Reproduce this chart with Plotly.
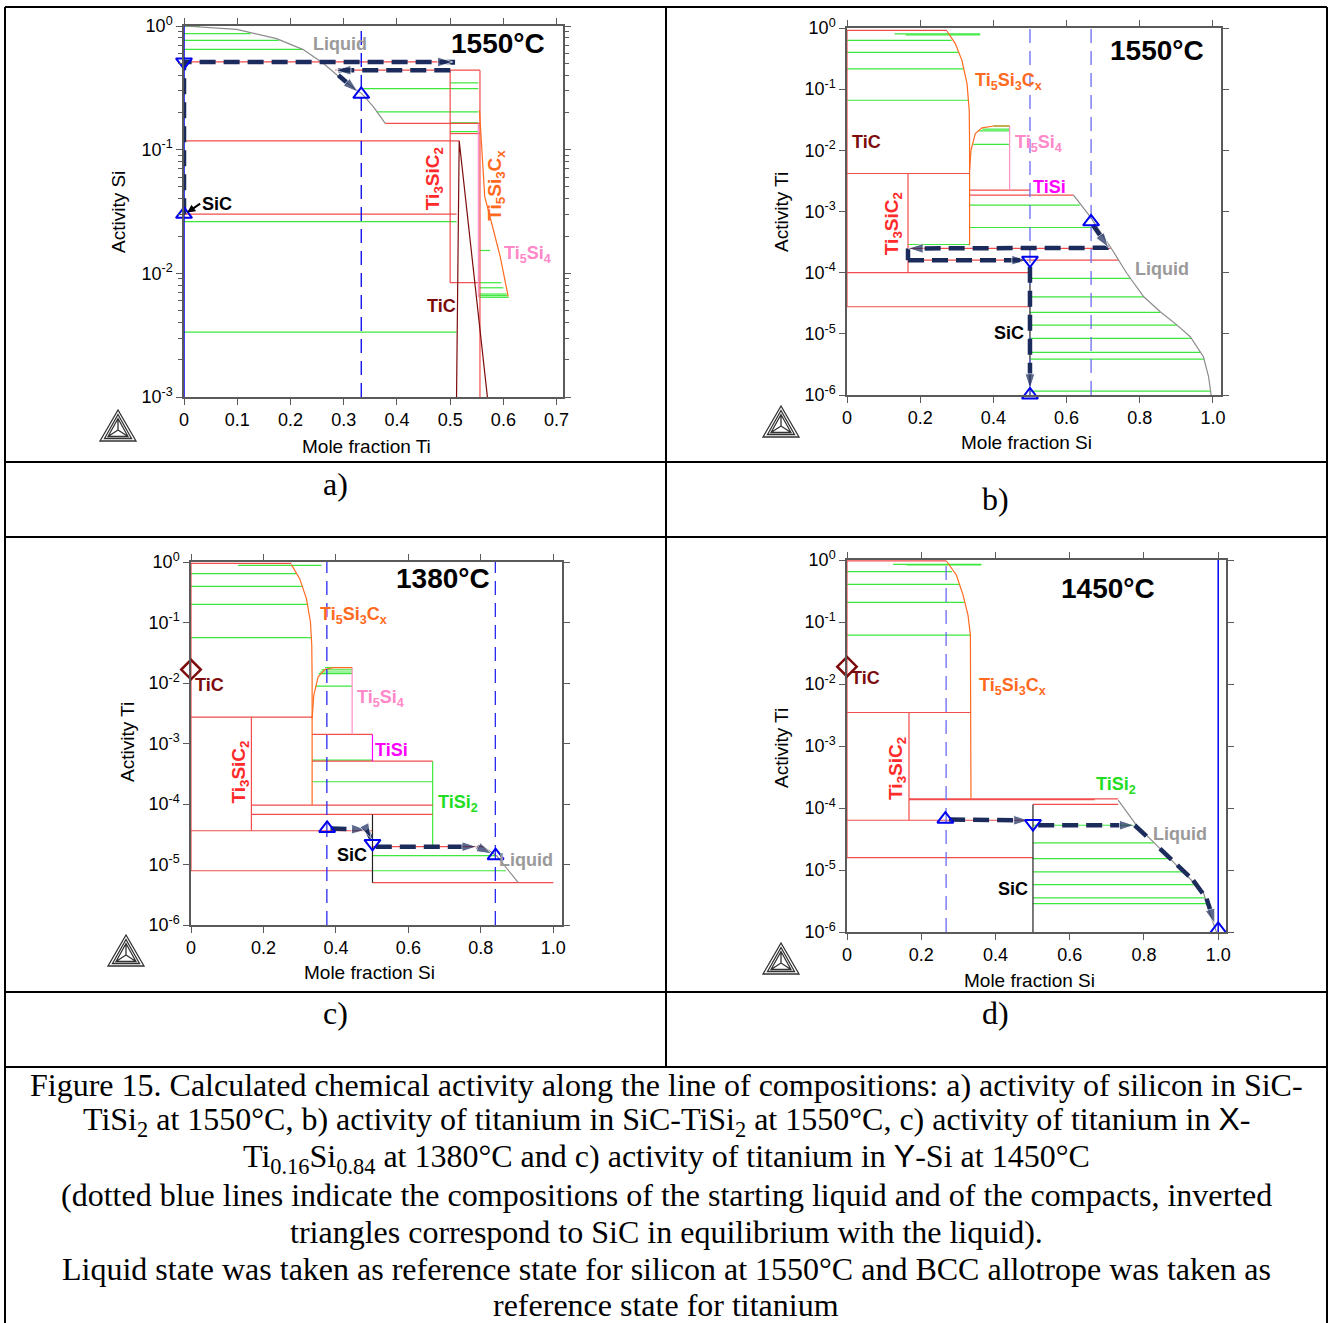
import numpy as np
import plotly.graph_objects as go

W, H = 1334, 1323

# ===================== DATA =====================
# ---------- panel a : activity of Si vs mole fraction Ti, 1550 C ----------
A_LIQUID_X = [0.0, 0.099, 0.174, 0.224, 0.262, 0.299, 0.334, 0.356, 0.378]
A_LIQUID_Y = [1.0, 0.94, 0.79, 0.644, 0.497, 0.364, 0.284, 0.222, 0.163]
A_TI5SI3CX_X = [0.555, 0.559, 0.565, 0.578, 0.594, 0.609]
A_TI5SI3CX_Y = [0.209, 0.0992, 0.0417, 0.0254, 0.01367, 0.0065]
A_TIC_X = [0.512, 0.517, 0.570]
A_TIC_Y = [0.001, 0.118, 0.001]
# tie lines (activity, x_from, x_to)
A_GREEN_H = [(0.994, 0.0, 0.03), (0.867, 0.0, 0.125), (0.766, 0.0, 0.178), (0.648, 0.0, 0.222),
             (0.347, 0.5, 0.553), (0.312, 0.337, 0.553), (0.202, 0.362, 0.553), (0.165, 0.5, 0.553),
             (0.140, 0.5, 0.553), (0.0262, 0.0, 0.512), (0.00335, 0.0, 0.512), (0.0153, 0.555, 0.575),
             (0.0084, 0.555, 0.596), (0.00764, 0.555, 0.600), (0.0068, 0.555, 0.606), (0.0066, 0.555, 0.608),
             (0.0064, 0.555, 0.610)]
A_RED_H = [(0.512, 0.0, 0.505), (0.439, 0.284, 0.556), (0.163, 0.378, 0.556), (0.135, 0.5, 0.556),
           (0.118, 0.0, 0.517), (0.0301, 0.0, 0.512), (0.00841, 0.5, 0.556)]
A_RED_V = [(0.5, 0.00841, 0.439), (0.556, 0.001, 0.439)]
A_PINK_V = [(0.553, 0.0064, 0.163)]
A_BLUE_SOLID = [0.0]
A_BLUE_DASHED = [0.333]
A_PATHS = [([0.0, 0.0, 0.505, 0.505, 0.285], [0.03, 0.512, 0.512, 0.439, 0.439], [2, 4]),
           ([0.29, 0.327], [0.40, 0.292], [1])]
A_TRI_UP = ([0.0, 0.333], [0.03, 0.28])
A_TRI_DOWN = ([0.0], [0.512])

# ---------- panel b : activity of Ti vs mole fraction Si, 1550 C ----------
B_LIQUID_X = [0.619, 0.665, 0.7195, 0.765, 0.811, 0.856, 0.902, 0.938, 0.974, 0.988, 0.995]
B_LIQUID_Y = [1.85e-3, 8.18e-4, 2.65e-4, 9.7e-5, 4.03e-5, 2.3e-5, 1.39e-5, 8.97e-6, 4.22e-6, 2.0e-6, 1.0e-6]
B_TI5SI3CX_X = [0.273, 0.296, 0.314, 0.328, 0.334, 0.335, 0.335]
B_TI5SI3CX_Y = [0.893, 0.555, 0.296, 0.123, 0.045, 0.0129, 2.82e-4]
B_TI5SI4_X = [0.335, 0.3388, 0.3506, 0.3689, 0.4007, 0.4444]
B_TI5SI4_Y = [0.00473, 0.0100, 0.01875, 0.0233, 0.025, 0.025]
B_GREEN_H = [(0.80, 0.13, 0.364), (0.77, 0.16, 0.364), (0.629, 0.0, 0.286), (0.40, 0.0, 0.305),
             (0.214, 0.0, 0.318), (0.0659, 0.0, 0.332), (0.025, 0.40, 0.444), (0.0222, 0.37, 0.444),
             (0.0208, 0.36, 0.444), (0.0125, 0.345, 0.444), (1.27e-3, 0.335, 0.636), (5.48e-4, 0.335, 0.684),
             (2.89e-4, 0.1667, 0.335), (8.05e-5, 0.5, 0.775), (4.03e-5, 0.5, 0.811), (2.24e-5, 0.5, 0.856),
             (1.39e-5, 0.5, 0.902), (8.43e-6, 0.5, 0.941), (4.98e-6, 0.5, 0.966), (3.87e-6, 0.5, 0.976),
             (1.16e-6, 0.5, 0.994)]
B_RED_H = [(0.916, 0.0, 0.273), (0.00418, 0.0, 0.335), (2.49e-4, 0.1667, 0.72), (1.6e-4, 0.1667, 0.742),
           (1.0e-4, 0.0, 0.5), (2.77e-5, 0.0, 0.5), (0.00223, 0.335, 0.5), (0.00185, 0.335, 0.619)]
B_RED_V = [(0.0, 2.77e-5, 0.916), (0.1667, 1.0e-4, 0.00418)]
B_PINK_V = [(0.4444, 0.00223, 0.025)]
B_BLACK_V = [(0.5, 1.0e-6, 1.0e-4)]
B_BLUE_DASHED = [0.5, 0.667]
B_PATHS = [([0.672, 0.715, 0.1667, 0.1667, 0.492], [6.0e-4, 2.55e-4, 2.49e-4, 1.6e-4, 1.6e-4], [1, 2, 4]),
           ([0.5, 0.5], [1.25e-4, 1.25e-6], [1])]
B_TRI_UP = ([0.667, 0.5], [6.78e-4, 1.0e-6])
B_TRI_DOWN = ([0.5], [1.6e-4])

# ---------- panel c : activity of Ti vs mole fraction Si, 1380 C ----------
C_LIQUID_X = [0.8066, 0.8435, 0.9033]
C_LIQUID_Y = [1.97e-5, 1.4e-5, 5.0e-6]
C_TI5SI3CX_X = [0.277, 0.300, 0.3186, 0.3297, 0.3333, 0.3343, 0.3343]
C_TI5SI3CX_Y = [0.904, 0.531, 0.248, 0.102, 0.042, 0.01184, 9.6e-5]
C_TI5SI4_X = [0.3343, 0.3389, 0.3508, 0.3692, 0.3923, 0.4448]
C_TI5SI4_Y = [0.00259, 0.00628, 0.0126, 0.0167, 0.018, 0.018]
C_GREEN_H = [(0.88, 0.13, 0.36), (0.642, 0.0, 0.29), (0.396, 0.0, 0.309), (0.20, 0.0, 0.321),
             (0.0563, 0.0, 0.331), (0.018, 0.37, 0.4448), (0.0165, 0.36, 0.4448), (0.0152, 0.355, 0.4448),
             (0.0143, 0.352, 0.4448), (0.00885, 0.345, 0.4448), (5.3e-4, 0.3343, 0.5), (2.33e-4, 0.3343, 0.667),
             (1.4e-5, 0.5009, 0.8435), (7.89e-6, 0.5009, 0.869)]
C_RED_H = [(0.95, 0.0, 0.277), (0.00272, 0.0, 0.3343), (9.6e-5, 0.1667, 0.667), (6.73e-5, 0.1667, 0.667),
           (3.61e-5, 0.0, 0.5009), (7.89e-6, 0.0, 0.5009), (0.00141, 0.3343, 0.5009), (5.1e-4, 0.3343, 0.667),
           (1.97e-5, 0.5009, 0.8066), (5.0e-6, 0.5009, 1.0)]
C_RED_V = [(0.0, 7.89e-6, 0.95), (0.1667, 3.61e-5, 0.00272)]
C_PINK_V = [(0.4448, 0.00141, 0.018)]
C_MAGENTA_V = [(0.5009, 5.1e-4, 0.00141)]
C_GREEN_V = [(0.667, 1.97e-5, 5.1e-4)]
C_BLACK_V = [(0.5009, 5.0e-6, 6.73e-5)]
C_BLUE_DASHED = [0.375, 0.84]
C_PATHS = [([0.385, 0.485, 0.497], [3.95e-5, 3.75e-5, 2.7e-5], [1, 2]),
           ([0.51, 0.79, 0.83], [1.97e-5, 1.97e-5, 1.5e-5], [1, 2])]
C_TRI_UP = ([0.3757, 0.8407], [3.95e-5, 1.4e-5])
C_TRI_DOWN = ([0.5009], [2.23e-5])
C_TIC = ([0.0], [0.0167])

# ---------- panel d : activity of Ti vs mole fraction Si, 1450 C ----------
D_LIQUID_X = [0.7305, 0.780, 0.825, 0.8787, 0.9326, 0.9596, 0.982, 0.9955]
D_LIQUID_Y = [1.335e-4, 5.27e-5, 2.84e-5, 1.35e-5, 6.41e-6, 4.42e-6, 1.64e-6, 1.0e-6]
D_TI5SI3CX_X = [0.2677, 0.2947, 0.3127, 0.326, 0.3324, 0.334, 0.334]
D_TI5SI3CX_Y = [0.963, 0.573, 0.272, 0.1294, 0.0615, 0.00356, 1.42e-4]
D_GREEN_H = [(0.85, 0.124, 0.362), (0.83, 0.16, 0.362), (0.648, 0.0, 0.283), (0.405, 0.0, 0.302),
             (0.207, 0.0, 0.316), (0.0615, 0.0, 0.332), (5.27e-5, 0.501, 0.78), (2.73e-5, 0.501, 0.826),
             (1.53e-5, 0.501, 0.866), (9.3e-6, 0.501, 0.902), (5.8e-6, 0.501, 0.934), (3.54e-6, 0.501, 0.966),
             (2.86e-6, 0.501, 0.972)]
D_RED_H = [(0.97, 0.0, 0.2677), (0.00347, 0.0, 0.334), (1.4e-4, 0.167, 0.7305), (1.36e-4, 0.167, 0.667),
           (1.14e-4, 0.501, 0.7305), (6.35e-5, 0.0, 0.501), (1.58e-5, 0.0, 0.501)]
D_RED_V = [(0.0, 1.58e-5, 0.97), (0.167, 6.35e-5, 0.00347)]
D_BLACK_V = [(0.501, 1.0e-6, 1.14e-4)]
D_BLUE_SOLID = [1.0]
D_BLUE_DASHED = [0.267]
D_PATHS = [([0.275, 0.49], [6.5e-5, 6.3e-5], [1]),
           ([0.515, 0.775, 0.843, 0.9326, 0.9686, 0.991], [5.27e-5, 5.27e-5, 2.21e-5, 6.82e-6, 3.45e-6, 1.35e-6], [1, 5])]
D_TRI_UP = ([0.265, 1.0], [6.6e-5, 1.1e-6])
D_TRI_DOWN = ([0.501], [5.6e-5])
D_TIC = ([0.0], [0.019])

# tick labels
A_XTICKS = [0, 0.1, 0.2, 0.3, 0.4, 0.5, 0.6, 0.7]
A_XTICKTEXT = ["0", "0.1", "0.2", "0.3", "0.4", "0.5", "0.6", "0.7"]
SI_XTICKS = [0, 0.2, 0.4, 0.6, 0.8, 1.0]
SI_XTICKTEXT = ["0", "0.2", "0.4", "0.6", "0.8", "1.0"]

CAPTION_LINES = [
    "Figure 15. Calculated chemical activity along the line of compositions: a) activity of silicon in SiC-",
    "TiSi<sub>2</sub> at 1550°C, b) activity of titanium in SiC-TiSi<sub>2</sub> at 1550°C, c) activity of titanium in "
    "<span style='font-family:Liberation Sans'>X</span>-",
    "Ti<sub>0.16</sub>Si<sub>0.84</sub> at 1380°C and c) activity of titanium in "
    "<span style='font-family:Liberation Sans'>Y</span>-Si at 1450°C",
    "(dotted blue lines indicate the compositions of the starting liquid and of the compacts, inverted",
    "triangles correspond to SiC in equilibrium with the liquid).",
    "Liquid state was taken as reference state for silicon at 1550°C and BCC allotrope was taken as",
    "reference state for titanium",
]

# ===================== STYLE =====================
GREEN = "#3be83b"
RED = "#f24c4c"
ORANGE = "#ff6a1f"
PINK = "#ff8fc8"
MAGENTA = "#ff00ff"
MAROON = "#7d0b0b"
GRAY = "#8c8c8c"
NAVY = "#1a2b5c"
BLUE = "#0000f0"
LBLUE = "#6b6bf2"
SANS = "Liberation Sans, Arial, sans-serif"
SERIF = "Liberation Serif, Times New Roman, serif"

# pixel geometry of the four plot frames: (left, right, top, bottom), x max, y decades
PANELS = {
    1: dict(px=(184, 563, 26, 397), xmax=0.712, dec=(-3, 0)),
    2: dict(px=(847, 1221, 28, 395), xmax=1.022, dec=(-6, 0)),
    3: dict(px=(191, 562, 562, 925), xmax=1.024, dec=(-6, 0)),
    4: dict(px=(847, 1226, 560, 932), xmax=1.021, dec=(-6, 0)),
}

fig = go.Figure()


def axn(i):
    return ("x" if i == 1 else f"x{i}"), ("y" if i == 1 else f"y{i}")


def hsegs(segs):
    xs, ys = [], []
    for y, x0, x1 in segs:
        xs += [x0, x1, None]
        ys += [y, y, None]
    return xs, ys


def vsegs(segs):
    xs, ys = [], []
    for x, y0, y1 in segs:
        xs += [x, x, None]
        ys += [y0, y1, None]
    return xs, ys


def line(i, xs, ys, color, width=1.2, dash=None):
    xa, ya = axn(i)
    fig.add_trace(go.Scatter(x=xs, y=ys, mode="lines", xaxis=xa, yaxis=ya, showlegend=False,
                             hoverinfo="skip", line=dict(color=color, width=width, dash=dash)))


def verticals(i, xs_list, color, dash=None, width=1.3):
    dec = PANELS[i]["dec"]
    segs = [(x, 10 ** dec[0], 10 ** dec[1]) for x in xs_list]
    xs, ys = vsegs(segs)
    line(i, xs, ys, color, width=width, dash=dash)


def path(i, xs, ys, arrows):
    xa, ya = axn(i)
    sizes = [16 if k in arrows else 0 for k in range(len(xs))]
    fig.add_trace(go.Scatter(x=xs, y=ys, mode="lines+markers", xaxis=xa, yaxis=ya, showlegend=False,
                             hoverinfo="skip", line=dict(color=NAVY, width=4.5, dash="16px,8px"),
                             marker=dict(symbol="arrow", angleref="previous", size=sizes, color=NAVY)))


def markers(i, xs, ys, symbol, color, size=14, width=2):
    xa, ya = axn(i)
    fig.add_trace(go.Scatter(x=xs, y=ys, mode="markers", xaxis=xa, yaxis=ya, showlegend=False,
                             hoverinfo="skip", cliponaxis=False,
                             marker=dict(symbol=symbol, size=size, color=color,
                                         line=dict(color=color, width=width))))


# ---------- panel a ----------
line(1, *hsegs(A_GREEN_H), GREEN)
line(1, *hsegs(A_RED_H), RED)
line(1, *vsegs(A_RED_V), RED)
line(1, *vsegs(A_PINK_V), PINK)
line(1, A_TI5SI3CX_X, A_TI5SI3CX_Y, ORANGE)
line(1, A_TIC_X, A_TIC_Y, MAROON)
line(1, A_LIQUID_X, A_LIQUID_Y, GRAY)
verticals(1, A_BLUE_SOLID, BLUE, width=1.5)
verticals(1, A_BLUE_DASHED, BLUE, dash="14px,8px")
for xs, ys, ar in A_PATHS:
    path(1, xs, ys, ar)
markers(1, *A_TRI_UP, "triangle-up-open", BLUE)
markers(1, *A_TRI_DOWN, "triangle-down-open", BLUE)

# ---------- panel b ----------
line(2, *hsegs(B_GREEN_H), GREEN)
line(2, *hsegs(B_RED_H), RED)
line(2, *vsegs(B_RED_V), RED)
line(2, *vsegs(B_PINK_V), PINK)
line(2, *vsegs(B_BLACK_V), "#222")
line(2, B_TI5SI3CX_X, B_TI5SI3CX_Y, ORANGE)
line(2, B_TI5SI4_X, B_TI5SI4_Y, ORANGE)
line(2, B_LIQUID_X, B_LIQUID_Y, GRAY)
verticals(2, B_BLUE_DASHED, LBLUE, dash="14px,8px")
for xs, ys, ar in B_PATHS:
    path(2, xs, ys, ar)
markers(2, *B_TRI_UP, "triangle-up-open", BLUE)
markers(2, *B_TRI_DOWN, "triangle-down-open", BLUE)

# ---------- panel c ----------
line(3, *hsegs(C_GREEN_H), GREEN)
line(3, *vsegs(C_GREEN_V), GREEN)
line(3, *hsegs(C_RED_H), RED)
line(3, *vsegs(C_RED_V), RED)
line(3, *vsegs(C_PINK_V), PINK)
line(3, *vsegs(C_MAGENTA_V), MAGENTA)
line(3, *vsegs(C_BLACK_V), "#222")
line(3, C_TI5SI3CX_X, C_TI5SI3CX_Y, ORANGE)
line(3, C_TI5SI4_X, C_TI5SI4_Y, ORANGE)
line(3, C_LIQUID_X, C_LIQUID_Y, GRAY)
verticals(3, C_BLUE_DASHED, "#2a2af0", dash="14px,8px")
for xs, ys, ar in C_PATHS:
    path(3, xs, ys, ar)
markers(3, *C_TRI_UP, "triangle-up-open", BLUE)
markers(3, *C_TRI_DOWN, "triangle-down-open", BLUE)
markers(3, *C_TIC, "diamond-open", MAROON, size=15, width=2.5)

# ---------- panel d ----------
line(4, *hsegs(D_GREEN_H), GREEN)
line(4, *hsegs(D_RED_H), RED)
line(4, *vsegs(D_RED_V), RED)
line(4, *vsegs(D_BLACK_V), "#222")
line(4, D_TI5SI3CX_X, D_TI5SI3CX_Y, ORANGE)
line(4, D_LIQUID_X, D_LIQUID_Y, GRAY)
verticals(4, D_BLUE_SOLID, BLUE, width=1.5)
verticals(4, D_BLUE_DASHED, LBLUE, dash="14px,8px")
for xs, ys, ar in D_PATHS:
    path(4, xs, ys, ar)
markers(4, *D_TRI_UP, "triangle-up-open", BLUE)
markers(4, *D_TRI_DOWN, "triangle-down-open", BLUE)
markers(4, *D_TIC, "diamond-open", MAROON, size=15, width=2.5)

# ===================== AXES =====================
layout_axes = {}
for i, p in PANELS.items():
    l, r, t, b = p["px"]
    dec = p["dec"]
    xk = "xaxis" if i == 1 else f"xaxis{i}"
    yk = "yaxis" if i == 1 else f"yaxis{i}"
    xa, ya = axn(i)
    common = dict(showline=True, linecolor="#5a5a5a", linewidth=1.5, mirror="ticks", ticks="outside",
                  ticklen=6, tickwidth=1.2, tickcolor="#5a5a5a", showgrid=False, zeroline=False,
                  automargin=False, tickfont=dict(family=SANS, size=18, color="black"))
    xt = (A_XTICKS, A_XTICKTEXT) if i == 1 else (SI_XTICKS, SI_XTICKTEXT)
    layout_axes[xk] = dict(common, domain=[l / W, r / W], range=[0, p["xmax"]], anchor=ya,
                           tickmode="array", tickvals=xt[0], ticktext=xt[1])
    yv = [10.0 ** k for k in range(dec[0], dec[1] + 1)]
    yt = [f"10<sup>{k}</sup>" for k in range(dec[0], dec[1] + 1)]
    ydict = dict(common, domain=[1 - b / H, 1 - t / H], type="log", range=list(dec), anchor=xa,
                 tickmode="array", tickvals=yv, ticktext=yt)
    if i == 1:
        ydict["minor"] = dict(ticks="outside", ticklen=4, tickcolor="#5a5a5a",
                              tickvals=[m * 10.0 ** k for k in range(-3, 0) for m in range(2, 10)])
    layout_axes[yk] = ydict

# ===================== ANNOTATIONS =====================
ann = []


def lab(i, x, yv, text, color, size=18, angle=0, bold=True):
    xa, ya = axn(i)
    t = f"<b>{text}</b>" if bold else text
    ann.append(dict(x=x, y=np.log10(yv), xref=xa, yref=ya, text=t, showarrow=False, textangle=angle,
                    font=dict(family=SANS, size=size, color=color)))


def ptext(xp, yp, text, size, family=SANS, color="black", angle=0):
    ann.append(dict(x=xp / W, y=1 - yp / H, xref="paper", yref="paper", text=text, showarrow=False,
                    textangle=angle, font=dict(family=family, size=size, color=color),
                    xanchor="center", yanchor="middle", borderpad=0))


T532 = "Ti<sub>5</sub>Si<sub>3</sub>C<sub>x</sub>"
T54 = "Ti<sub>5</sub>Si<sub>4</sub>"
T312 = "Ti<sub>3</sub>SiC<sub>2</sub>"
TSI2 = "TiSi<sub>2</sub>"
TEMP = 28

# panel a
lab(1, 0.293, 0.72, "Liquid", "#9a9a9a")
lab(1, 0.59, 0.72, "1550°C", "black", size=TEMP)
lab(1, 0.471, 0.0585, T312, "#ff2a2a", angle=-90, size=19)
lab(1, 0.586, 0.052, T532, ORANGE, angle=-90, size=19)
lab(1, 0.645, 0.0141, T54, "#ff88c8")
lab(1, 0.483, 0.0054, "TiC", MAROON)
ann.append(dict(x=0.006, y=np.log10(0.031), xref="x", yref="y", text="<b>SiC</b>", showarrow=True,
                arrowhead=2, arrowsize=0.8, arrowwidth=2, arrowcolor="black", ax=13, ay=-9,
                xanchor="left", font=dict(family=SANS, size=18, color="black")))
# panel b
lab(2, 0.847, 0.43, "1550°C", "black", size=TEMP)
lab(2, 0.44, 0.131, T532, ORANGE)
lab(2, 0.053, 0.0137, "TiC", MAROON)
lab(2, 0.522, 0.0129, T54, "#ff88c8")
lab(2, 0.553, 0.00253, "TiSi", MAGENTA)
lab(2, 0.1275, 6.37e-4, T312, "#ff2a2a", angle=-90, size=19)
lab(2, 0.861, 1.17e-4, "Liquid", "#9a9a9a")
lab(2, 0.442, 1.02e-5, "SiC", "black")
# panel c
lab(3, 0.696, 0.53, "1380°C", "black", size=TEMP)
lab(3, 0.4475, 0.1316, T532, ORANGE)
lab(3, 0.0516, 0.0092, "TiC", MAROON)
lab(3, 0.524, 0.00553, T54, "#ff88c8")
lab(3, 0.5534, 7.76e-4, "TiSi", MAGENTA)
lab(3, 0.1344, 3.4e-4, T312, "#ff2a2a", angle=-90, size=19)
lab(3, 0.7376, 1.02e-4, TSI2, "#22dd22")
lab(3, 0.443, 1.43e-5, "SiC", "black")
lab(3, 0.926, 1.18e-5, "Liquid", "#9a9a9a")
# panel d
lab(4, 0.7035, 0.349, "1450°C", "black", size=TEMP)
lab(4, 0.05, 0.0123, "TiC", MAROON)
lab(4, 0.447, 0.009, T532, ORANGE)
lab(4, 0.133, 4.33e-4, T312, "#ff2a2a", angle=-90, size=19)
lab(4, 0.726, 2.33e-4, TSI2, "#22dd22")
lab(4, 0.897, 3.87e-5, "Liquid", "#9a9a9a")
lab(4, 0.447, 5.0e-6, "SiC", "black")

# axis titles
AT = 19
ptext(366, 446, "Mole fraction Ti", AT)
ptext(118, 212, "Activity Si", AT, angle=-90)
ptext(1026, 442, "Mole fraction Si", AT)
ptext(781, 212, "Activity Ti", AT, angle=-90)
ptext(369, 972, "Mole fraction Si", AT)
ptext(127, 742, "Activity Ti", AT, angle=-90)
ptext(1029, 980, "Mole fraction Si", AT)
ptext(781, 748, "Activity Ti", AT, angle=-90)

# panel captions
CAP = 32
ptext(335, 484, "a)", CAP, family=SERIF)
ptext(995, 499, "b)", CAP, family=SERIF)
ptext(335, 1013, "c)", CAP, family=SERIF)
ptext(995, 1013, "d)", CAP, family=SERIF)

# figure caption
for k, txt in enumerate(CAPTION_LINES):
    ptext(666, 1085 + 36.7 * k, txt, CAP, family=SERIF)

# ===================== SHAPES (table + logos) =====================
shapes = []


def pline(x0, y0, x1, y1, w=2):
    shapes.append(dict(type="line", xref="paper", yref="paper", x0=x0 / W, y0=1 - y0 / H,
                       x1=x1 / W, y1=1 - y1 / H, line=dict(color="black", width=w)))


pline(5, 7, 1327, 7)
pline(5, 7, 5, 1323)
pline(1327, 7, 1327, 1323)
pline(666, 7, 666, 1067)
for yy in (462, 537, 992, 1067):
    pline(5, yy, 1327, yy)

LOGO = ("M -18 -14 L 18 -14 L 0 17 Z "
        "M -13.5 -11.5 L 13.5 -11.5 L 0 12.5 Z "
        "M -10 -9.5 L 10 -9.5 L 0 8.5 Z "
        "M 0 -3 L 0 8.5 M 0 -3 L -10 -9.5 M 0 -3 L 10 -9.5")
for cx, cy in [(118, 427), (781, 423), (126, 952), (781, 960)]:
    shapes.append(dict(type="path", xref="paper", yref="paper", xsizemode="pixel", ysizemode="pixel",
                       xanchor=cx / W, yanchor=1 - cy / H, path=LOGO,
                       line=dict(color="#333333", width=1.3)))

fig.update_layout(width=W, height=H, margin=dict(l=0, r=0, t=0, b=0, pad=0, autoexpand=False),
                  paper_bgcolor="white", plot_bgcolor="white", showlegend=False,
                  annotations=ann, shapes=shapes, font=dict(family=SANS), **layout_axes)

fig.write_html("out.html", config={"displayModeBar": False},
               post_script="document.body.style.margin='0px';document.body.style.overflow='hidden';")
